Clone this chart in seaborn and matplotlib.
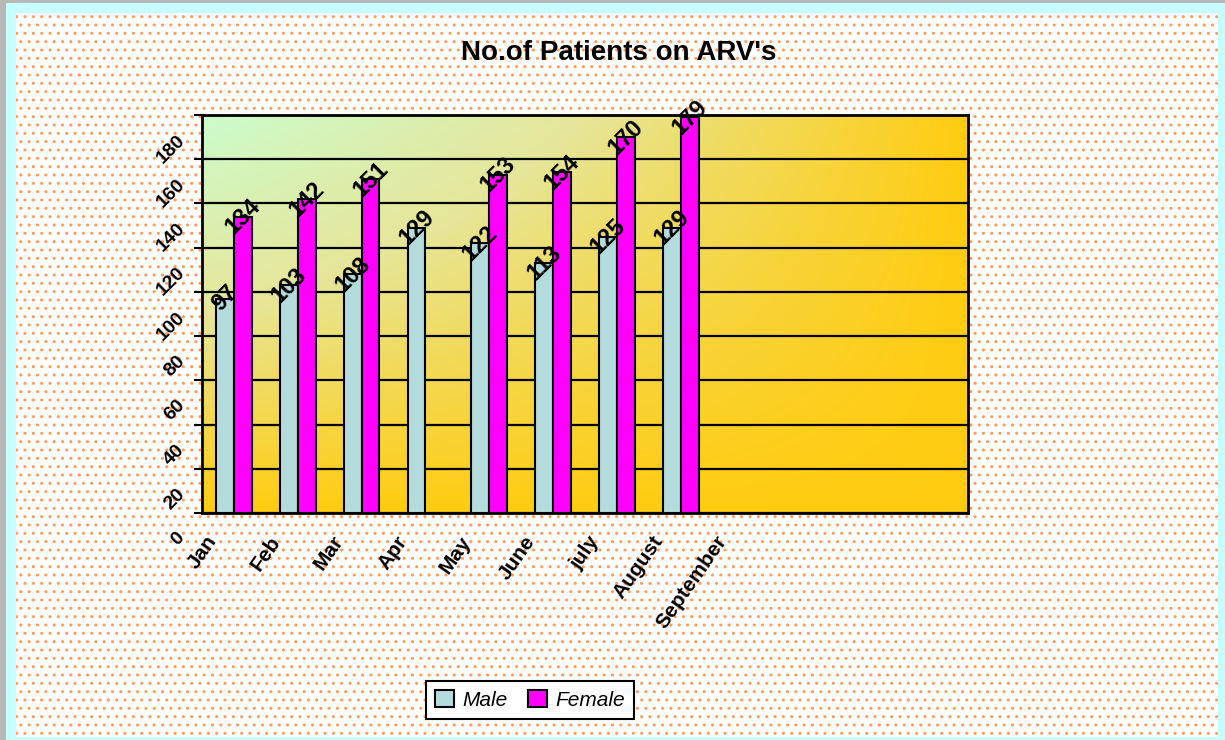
# -*- coding: utf-8 -*-
import numpy as np
import pandas as pd
import seaborn as sns
import matplotlib
matplotlib.use('Agg')
import matplotlib.pyplot as plt
from matplotlib.patches import Rectangle, Patch
from matplotlib.colors import LinearSegmentedColormap
from matplotlib.transforms import ScaledTranslation

# data
months = ['Jan', 'Feb', 'Mar', 'Apr', 'May', 'June', 'july', 'August', 'September']
male = [97, 103, 108, 129, 122, 113, 125, 129, None]
female = [134, 142, 151, None, 153, 154, 170, 179, None]
empty_slots = ['', ' ', '  ']  # three unlabeled categories at the right
yticks = list(range(0, 181, 20))

rows = []
for m, a, b in zip(months, male, female):
    if a is not None:
        rows.append((m, 'Male', a))
    if b is not None:
        rows.append((m, 'Female', b))
df = pd.DataFrame(rows, columns=['Month', 'Sex', 'Patients'])
order = months + empty_slots

sns.set_style('white')
plt.rcParams['font.family'] = ['Liberation Sans', 'DejaVu Sans']
plt.rcParams['text.color'] = 'black'
plt.rcParams['xtick.color'] = 'black'
plt.rcParams['ytick.color'] = 'black'

fig = plt.figure(figsize=(12.25, 7.4), dpi=100)
fig.patch.set_facecolor('#c6ffff')
# dotted page background
bg = Rectangle((16 / 1225, 3 / 740), 1202 / 1225, 724 / 740, transform=fig.transFigure,
               facecolor='white', edgecolor='#ff9a5c', hatch='..', linewidth=0, zorder=-10)
fig.patches.append(bg)
fig.patches.append(Rectangle((0, 0), 6 / 1225, 1, transform=fig.transFigure,
                             facecolor='#b8b8b8', linewidth=0, zorder=-9))
fig.patches.append(Rectangle((0, 1 - 3 / 740), 1, 3 / 740, transform=fig.transFigure,
                             facecolor='#b8b8b8', linewidth=0, zorder=-9))

ax = fig.add_axes([202 / 1225, 1 - 513 / 740, 766 / 1225, 398 / 740])

# gradient plot area: green top-left -> gold bottom/right
gx, gy = np.meshgrid(np.linspace(0, 1, 300), np.linspace(1, 0, 200))
t = 1 - (1 - gx) * gy
cmap = LinearSegmentedColormap.from_list('bg', ['#ccfccc', '#e6e69a', '#ffcc11'])
ax.imshow(t, cmap=cmap, extent=[0, 1, 0, 1], transform=ax.transAxes,
          aspect='auto', zorder=0.1, vmin=0, vmax=1)

sns.barplot(data=df, x='Month', y='Patients', hue='Sex', order=order,
            hue_order=['Male', 'Female'], palette=['#b4dcdc', '#ff00ff'],
            saturation=1, width=0.56, edgecolor='black', linewidth=1.5,
            errorbar=None, legend=False, ax=ax, zorder=3)

for cont in ax.containers:
    for bar in cont:
        h = bar.get_height()
        if np.isnan(h) or h == 0:
            continue
        ax.text(bar.get_x() + bar.get_width() / 2, h, f'{int(h)}', rotation=45,
                ha='center', va='center', fontsize=17, fontweight='bold', zorder=5)

ax.set_xlim(-0.5, len(order) - 0.5)
ax.set_ylim(0, 180)
ax.set_yticks(yticks)
ax.set_yticklabels([str(v) for v in yticks], rotation=45, fontsize=14,
                   fontweight='bold', ha='right', va='top')
ax.set_xticks(range(len(order)))
ax.set_xticklabels(order, rotation=55, fontsize=15, fontweight='bold',
                   ha='right', va='top')
ax.set_xticks(np.arange(-0.5, len(order), 1), minor=True)
ax.tick_params(axis='x', which='major', length=0, pad=14)
ax.tick_params(axis='x', which='minor', length=6, width=1.5, direction='out', color='black')
ax.tick_params(axis='y', length=6, width=1.5, direction='out', color='black', pad=4, left=True)
for lab in ax.get_yticklabels():
    lab.set_transform(lab.get_transform() + ScaledTranslation(0, -12 / 72, fig.dpi_scale_trans))
for lab in ax.get_xticklabels():
    lab.set_transform(lab.get_transform() + ScaledTranslation(-10 / 72, 0, fig.dpi_scale_trans))

ax.yaxis.grid(True, color='black', linewidth=1.6, zorder=1)
ax.set_axisbelow(True)
for s in ax.spines.values():
    s.set_visible(True)
    s.set_color('black')
    s.set_linewidth(2)
ax.set_xlabel('')
ax.set_ylabel('')

fig.text(0.505, 1 - 53 / 740, "No.of Patients on ARV's", ha='center', va='center',
         fontsize=20, fontweight='bold')

handles = [Patch(facecolor='#b4dcdc', edgecolor='black', linewidth=1.5, label='Male'),
           Patch(facecolor='#ff00ff', edgecolor='black', linewidth=1.5, label='Female')]
leg = fig.legend(handles=handles, loc='center', bbox_to_anchor=(530 / 1225, 1 - 700 / 740),
                 ncol=2, frameon=True, fancybox=False, edgecolor='black', framealpha=1,
                 prop={'style': 'italic', 'size': 15}, handlelength=0.9, handleheight=0.9,
                 handletextpad=0.4, columnspacing=1.0, borderpad=0.45)
leg.get_frame().set_linewidth(1.5)

fig.savefig('out.png', dpi=100, facecolor=fig.get_facecolor())
